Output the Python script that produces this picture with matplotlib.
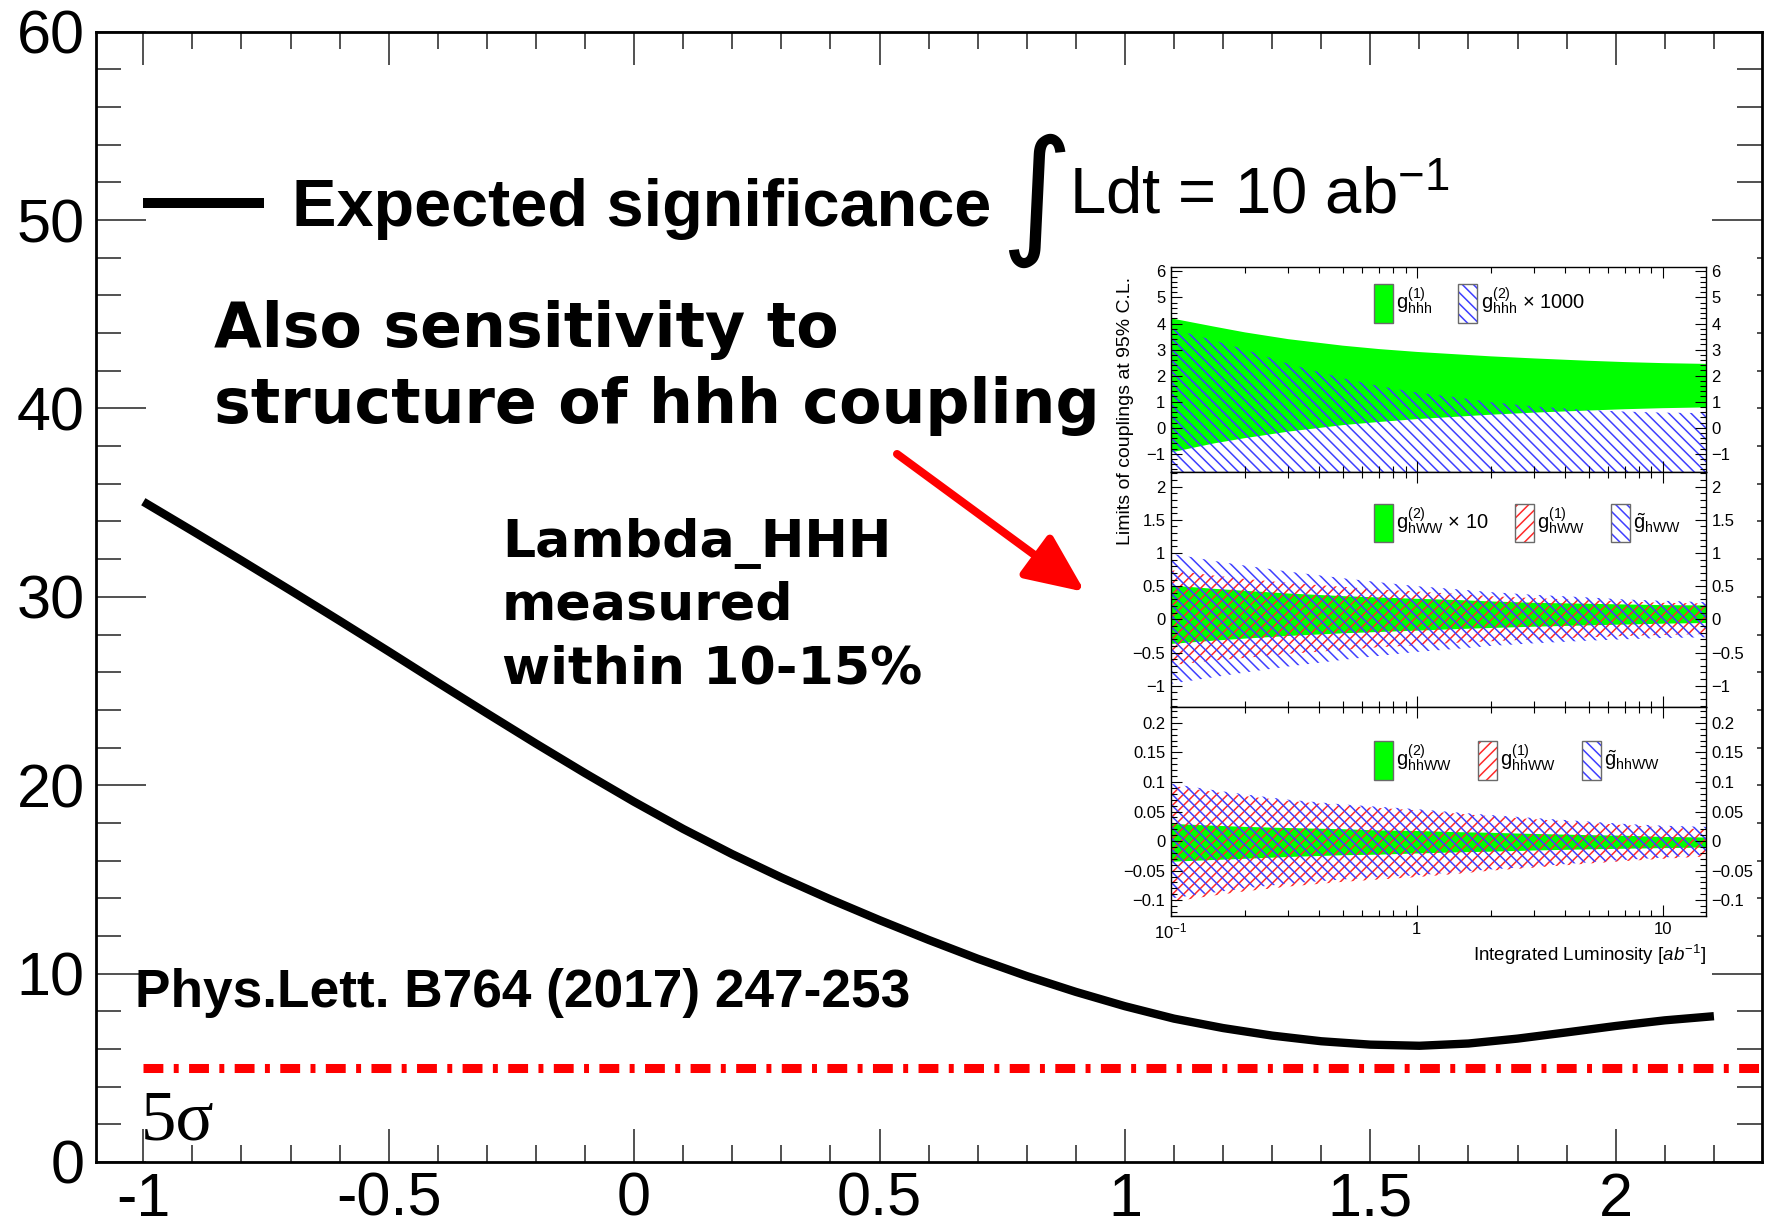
import numpy as np
import matplotlib
matplotlib.use('Agg')
import matplotlib.pyplot as plt
from matplotlib.patches import Patch, Rectangle, FancyArrowPatch
from matplotlib.lines import Line2D
from matplotlib.legend_handler import HandlerTuple
from matplotlib.ticker import (MultipleLocator, FixedLocator, FixedFormatter,
                               FuncFormatter, LogLocator, NullFormatter)

plt.rcParams['font.family'] = ['Liberation Sans', 'DejaVu Sans']
plt.rcParams['mathtext.fontset'] = 'custom'
plt.rcParams['mathtext.rm'] = 'Liberation Sans'
plt.rcParams['mathtext.it'] = 'Liberation Sans:italic'
plt.rcParams['mathtext.bf'] = 'Liberation Sans:bold'
plt.rcParams['hatch.linewidth'] = 1.1

# ---------------- main chart data ----------------
kappa = [-1.0, -0.9, -0.8, -0.7, -0.6, -0.5, -0.4, -0.3, -0.2, -0.1, 0.0,
         0.1, 0.2, 0.3, 0.4, 0.5, 0.6, 0.7, 0.8, 0.9, 1.0, 1.1, 1.2, 1.3,
         1.4, 1.5, 1.6, 1.7, 1.8, 1.9, 2.0, 2.1, 2.2]
significance = [35.05, 33.5, 31.93, 30.34, 28.73, 27.1, 25.45, 23.82, 22.21,
                20.64, 19.12, 17.68, 16.34, 15.1, 13.94, 12.84, 11.79, 10.79,
                9.87, 9.03, 8.27, 7.61, 7.11, 6.71, 6.41, 6.23, 6.17, 6.29,
                6.55, 6.88, 7.22, 7.52, 7.74]
five_sigma = 5.0
x_ticklabels_fmt = '%g'

# ---------------- inset data ----------------
lumi = [0.1, 0.15, 0.2, 0.3, 0.5, 0.7, 1, 1.5, 2, 3, 5, 7, 10, 15]
# panel 1
g1_hhh_hi = [4.2, 3.88, 3.66, 3.4, 3.15, 3.02, 2.91, 2.81, 2.74, 2.66, 2.57, 2.52, 2.48, 2.45]
g1_hhh_lo = [-0.95, -0.6, -0.4, -0.15, 0.1, 0.22, 0.33, 0.43, 0.5, 0.58, 0.66, 0.71, 0.75, 0.78]
g2_hhh_hi = [3.8, 3.35, 3.0, 2.45, 1.9, 1.6, 1.35, 1.15, 0.98, 0.82, 0.68, 0.62, 0.58, 0.56]
g2_hhh_lo = [-3.0, -3.0, -3.0, -3.0, -3.0, -3.0, -3.0, -3.0, -3.0, -3.0, -3.0, -3.0, -3.0, -3.0]
# panel 2
g2_hWW_hi = [0.51, 0.46, 0.43, 0.39, 0.35, 0.33, 0.31, 0.29, 0.27, 0.25, 0.235, 0.225, 0.215, 0.21]
g2_hWW_lo = [-0.37, -0.32, -0.29, -0.25, -0.21, -0.19, -0.17, -0.145, -0.13, -0.11, -0.09, -0.078, -0.065, -0.055]
g1_hWW_hi = [0.74, 0.66, 0.61, 0.55, 0.49, 0.45, 0.42, 0.38, 0.35, 0.32, 0.29, 0.27, 0.25, 0.24]
g1_hWW_lo = [-0.69, -0.62, -0.58, -0.52, -0.46, -0.42, -0.39, -0.35, -0.33, -0.30, -0.27, -0.25, -0.235, -0.22]
gt_hWW_hi = [0.99, 0.88, 0.81, 0.72, 0.62, 0.56, 0.5, 0.45, 0.41, 0.37, 0.33, 0.3, 0.28, 0.26]
gt_hWW_lo = [-0.97, -0.87, -0.8, -0.71, -0.61, -0.55, -0.49, -0.44, -0.4, -0.36, -0.32, -0.3, -0.28, -0.27]
# panel 3
g2_hhWW_hi = [0.029, 0.026, 0.024, 0.022, 0.02, 0.018, 0.017, 0.015, 0.014, 0.012, 0.01, 0.009, 0.007, 0.006]
g2_hhWW_lo = [-0.035, -0.032, -0.030, -0.027, -0.024, -0.023, -0.021, -0.019, -0.018, -0.016, -0.014, -0.013, -0.012, -0.011]
g1_hhWW_hi = [0.094, 0.083, 0.076, 0.068, 0.06, 0.056, 0.052, 0.046, 0.042, 0.037, 0.031, 0.027, 0.023, 0.02]
g1_hhWW_lo = [-0.103, -0.092, -0.085, -0.077, -0.069, -0.065, -0.061, -0.055, -0.05, -0.045, -0.038, -0.034, -0.03, -0.026]
gt_hhWW_hi = [0.097, 0.086, 0.079, 0.07, 0.062, 0.058, 0.054, 0.048, 0.044, 0.039, 0.033, 0.029, 0.026, 0.024]
gt_hhWW_lo = [-0.097, -0.087, -0.08, -0.072, -0.065, -0.061, -0.058, -0.052, -0.048, -0.043, -0.036, -0.032, -0.028, -0.023]

GREEN = '#00ff00'
RED = '#ff2a2a'
BLUE = '#3f3fff'
BOXEDGE = '#6a6a6a'
HATCH_RED = '///'
HATCH_BLUE = '\\\\\\'

W, H = 1769, 1232
fig = plt.figure(figsize=(W / 100, H / 100), dpi=100)


def P(x, y):
    """full-pixel position -> figure fraction"""
    return (x / W, 1 - y / H)


# ---------------- main axes ----------------
ax = fig.add_axes([95.9 / W, 1 - 1162 / H, (1762 - 95.9) / W, (1162 - 31.7) / H])
ax.set_zorder(0)
ax.set_xlim(-1.0966, 2.298)
ax.set_ylim(0, 60)
ax.plot(kappa, significance, color='black', lw=6, solid_capstyle='butt',
        solid_joinstyle='round')
x0, x1 = ax.get_xlim()
ax.axhline(five_sigma, xmin=(kappa[0] - x0) / (x1 - x0), xmax=1, color='#ff0000',
           lw=6.5, ls=(0, (2.2, 1.15, 0.55, 1.15)), dash_capstyle='butt')

ax.xaxis.set_major_locator(MultipleLocator(0.5))
ax.xaxis.set_minor_locator(MultipleLocator(0.1))
ax.yaxis.set_major_locator(MultipleLocator(10))
ax.yaxis.set_minor_locator(MultipleLocator(2))
fmt_main = FuncFormatter(lambda v, p: x_ticklabels_fmt % (round(v, 6) + 0.0))
ax.xaxis.set_major_formatter(fmt_main)
ax.yaxis.set_major_formatter(fmt_main)
ax.tick_params(which='both', direction='in', top=True, right=True, width=1.1,
               labelsize=44, color='#222222')
ax.tick_params(axis='x', which='major', length=24, pad=7)
ax.tick_params(axis='x', which='minor', length=12)
ax.tick_params(axis='y', which='major', length=36, pad=8)
ax.tick_params(axis='y', which='minor', length=18)
for s in ax.spines.values():
    s.set_linewidth(2)

leg_handle = Line2D([], [], color='black', lw=7.2, solid_capstyle='butt')
ax.legend([leg_handle], ['Expected significance'], loc='center left',
          bbox_to_anchor=P(143, 209), bbox_transform=fig.transFigure,
          frameon=False, borderpad=0, borderaxespad=0, handlelength=1.82,
          handletextpad=0.42,
          prop=dict(family='Liberation Sans', weight='bold', size=48))

# integral sign and luminosity
fig.text(*P(1036, 200), '\u222b', fontsize=100, family='DejaVu Sans',
         ha='center', va='center')
fig.text(*P(1069, 214), r'Ldt = 10 ab$^{-1}$', fontsize=47, ha='left', va='baseline')

bold_kw = dict(family='DejaVu Sans', weight='bold', color='black')
fig.text(*P(214, 347), 'Also sensitivity to', fontsize=44.5, va='baseline', **bold_kw)
fig.text(*P(214, 423), 'structure of hhh coupling', fontsize=44.5, va='baseline', **bold_kw)
fig.text(*P(502, 557), 'Lambda_HHH', fontsize=37.5, va='baseline', **bold_kw)
fig.text(*P(502, 620), 'measured', fontsize=37.5, va='baseline', **bold_kw)
fig.text(*P(502, 683), 'within 10-15%', fontsize=37.5, va='baseline', **bold_kw)
fig.text(*P(135, 1007), 'Phys.Lett. B764 (2017) 247-253', fontsize=38.3,
         weight='bold', va='baseline')
fig.text(*P(141, 1140), '5\u03c3', fontsize=51, family='Liberation Serif',
         va='baseline')

arrow = FancyArrowPatch(P(897, 454), P(1085, 592), transform=fig.transFigure,
                        arrowstyle='-|>,head_length=0.9,head_width=0.4',
                        mutation_scale=40, lw=5.8, color='#ff0000',
                        shrinkA=0, shrinkB=0, zorder=3)
fig.add_artist(arrow)

# white background of the inset
fig.add_artist(Rectangle(P(1100, 968), (1757 - 1100) / W, (968 - 255) / H,
                         transform=fig.transFigure, facecolor='white',
                         edgecolor='none', zorder=1))

# ---------------- inset ----------------
left, right = 1171, 1706
bounds = [267, 472, 707, 916]
ylims = [(-1.70, 6.17), (-1.32, 2.22), (-0.1268, 0.2268)]
ymaj = [1, 0.5, 0.05]
ymin = [0.2, 0.1, 0.01]
fmt_in = FuncFormatter(lambda v, p: ('%g' % (round(v, 6) + 0.0)).replace('-', '\u2212'))

panels = []
for i in range(3):
    top, bot = bounds[i], bounds[i + 1]
    a = fig.add_axes([left / W, 1 - bot / H, (right - left) / W, (bot - top) / H])
    a.set_zorder(2)
    a.set_xscale('log')
    a.set_xlim(0.1, 15)
    a.set_ylim(*ylims[i])
    a.yaxis.set_major_locator(MultipleLocator(ymaj[i]))
    a.yaxis.set_minor_locator(MultipleLocator(ymin[i]))
    a.yaxis.set_major_formatter(fmt_in)
    a.xaxis.set_major_locator(FixedLocator([0.1, 1, 10]))
    a.xaxis.set_minor_locator(LogLocator(base=10, subs=np.arange(2, 10)))
    a.xaxis.set_minor_formatter(NullFormatter())
    a.tick_params(which='both', direction='in', top=True, right=True,
                  labelright=True, labelsize=12, width=0.8, pad=4)
    a.tick_params(which='major', length=8)
    a.tick_params(which='minor', length=4)
    for s in a.spines.values():
        s.set_linewidth(1.0)
    panels.append(a)

p1, p2, p3 = panels
p1.tick_params(labelbottom=False)
p2.tick_params(labelbottom=False)
p3.xaxis.set_major_formatter(FixedFormatter(['$10^{-1}$', '1', '10']))
p3.set_xlabel(r'Integrated Luminosity [$\mathit{ab}^{-1}$]', loc='right',
              fontsize=13.5, labelpad=1)

# panel 1
p1.fill_between(lumi, g1_hhh_lo, g1_hhh_hi, facecolor=GREEN, edgecolor='none', lw=0)
p1.fill_between(lumi, g2_hhh_lo, g2_hhh_hi, facecolor='none', edgecolor=BLUE,
                hatch=HATCH_BLUE, lw=0)
# panel 2
p2.fill_between(lumi, g2_hWW_lo, g2_hWW_hi, facecolor=GREEN, edgecolor='none', lw=0)
p2.fill_between(lumi, g1_hWW_lo, g1_hWW_hi, facecolor='none', edgecolor=RED,
                hatch=HATCH_RED, lw=0)
p2.fill_between(lumi, gt_hWW_lo, gt_hWW_hi, facecolor='none', edgecolor=BLUE,
                hatch=HATCH_BLUE, lw=0)
# panel 3
p3.fill_between(lumi, g2_hhWW_lo, g2_hhWW_hi, facecolor=GREEN, edgecolor='none', lw=0)
p3.fill_between(lumi, g1_hhWW_lo, g1_hhWW_hi, facecolor='none', edgecolor=RED,
                hatch=HATCH_RED, lw=0)
p3.fill_between(lumi, gt_hhWW_lo, gt_hhWW_hi, facecolor='none', edgecolor=BLUE,
                hatch=HATCH_BLUE, lw=0)


def green_h():
    return Patch(facecolor=GREEN, edgecolor=BOXEDGE, lw=1)


def hatch_h(color, hatch):
    return (Patch(facecolor='white', edgecolor=color, hatch=hatch, lw=0),
            Patch(facecolor='none', edgecolor=BOXEDGE, lw=1))


leg_kw = dict(loc='center left', frameon=False, borderpad=0, borderaxespad=0,
              handlelength=0.95, handleheight=2.6, handletextpad=0.15,
              columnspacing=1.3, fontsize=14.5,
              handler_map={tuple: HandlerTuple(ndivide=1, pad=0)})
p1.legend([green_h(), hatch_h(BLUE, HATCH_BLUE)],
          [r'$\mathregular{g^{(1)}_{hhh}}$', r'$\mathregular{g^{(2)}_{hhh}}$ × 1000'],
          ncol=2, bbox_to_anchor=(0.3794, 0.824), **leg_kw)
p2.legend([green_h(), hatch_h(RED, HATCH_RED), hatch_h(BLUE, HATCH_BLUE)],
          [r'$\mathregular{g^{(2)}_{hWW}}$ × 10', r'$\mathregular{g^{(1)}_{hWW}}$',
           r'$\mathregular{\tilde{g}_{hWW}}$'],
          ncol=3, bbox_to_anchor=(0.3794, 0.783), **leg_kw)
p3.legend([green_h(), hatch_h(RED, HATCH_RED), hatch_h(BLUE, HATCH_BLUE)],
          [r'$\mathregular{g^{(2)}_{hhWW}}$', r'$\mathregular{g^{(1)}_{hhWW}}$',
           r'$\mathregular{\tilde{g}_{hhWW}}$'],
          ncol=3, bbox_to_anchor=(0.3794, 0.746), **leg_kw)

fig.text(*P(1125, 411), 'Limits of couplings at 95% C.L.', rotation=90,
         ha='center', va='center', fontsize=14, zorder=3)

fig.savefig('out.png', dpi=100, facecolor='white')
